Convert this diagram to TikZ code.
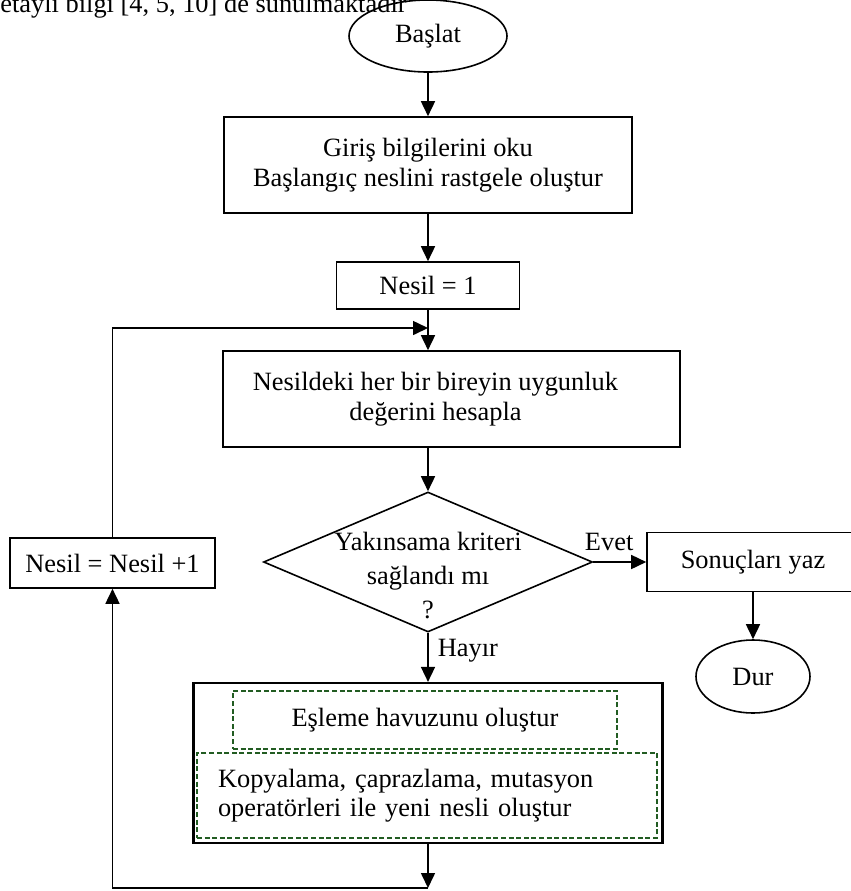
\documentclass[tikz,border=0pt]{standalone}
\definecolor{poolgreen}{RGB}{34, 92, 34}
\usepackage{fontspec}
\setmainfont{Liberation Serif}
\usetikzlibrary{shapes.geometric, arrows.meta}

\begin{document}
\begin{tikzpicture}[x=0.5pt, y=-0.5pt,
  every node/.style={font=\fontsize{13.2}{14.7}\selectfont},
  procbox/.style={draw, line width=0.8pt, inner sep=0pt, align=center},
  termnode/.style={draw, ellipse, line width=0.8pt, inner sep=0pt},
  decnode/.style={draw, diamond, line width=0.8pt, inner sep=0pt},
  dashbox/.style={draw=poolgreen, line width=0.6pt, dash pattern=on 2.5pt off 1.3pt, inner sep=0pt},
  arr/.style={line width=0.8pt, -{Triangle[length=7.5pt, width=7pt]}},
  edgelbl/.style={inner sep=0pt}]
  \useasboundingbox (0, 0) rectangle (851, 891);
  \clip (0, 0) rectangle (851, 891);

  % Text line above the chart
  \node[anchor=base west, inner sep=0pt] (intro) at (0, 12) {etaylı bilgi [4, 5, 10] de sunulmaktadır};

  % Start
  \node[termnode, minimum width=79pt, minimum height=36pt] (start) at (428, 36) {Başlat};

  % Read input
  \node[procbox, minimum width=204pt, minimum height=48pt] (read) at (428, 165) {
    Giriş bilgilerini oku\\
    Başlangıç neslini rastgele oluştur
  };

  % First generation
  \node[procbox, minimum width=91.5pt, minimum height=23.5pt] (init) at (428, 285.5) {Nesil = 1};

  % Fitness
  \node[procbox, minimum width=228.5pt, minimum height=48pt,
        label={[align=center, xshift=-8pt]center:Nesildeki her bir bireyin uygunluk\\değerini hesapla}]
        (fitness) at (451.5, 399) {};

  % Convergence test
  \node[decnode, minimum width=164.5pt, minimum height=70pt,
        label={[align=center, yshift=-7pt, font=\fontsize{13.2}{17}\selectfont]center:Yakınsama kriteri\\sağlandı mı\\?}]
        (decision) at (428, 562) {};

  % Results
  \node[procbox, minimum width=106pt, minimum height=29.5pt] (result) at (753, 562) {Sonuçları yaz};
  \node[termnode, minimum width=57pt, minimum height=36.5pt] (stop) at (753, 676.5) {Dur};

  % Next generation
  \node[procbox, minimum width=102.5pt, minimum height=25pt] (incr) at (112.5, 563) {Nesil = Nesil +1};

  % New generation
  \node[procbox, line width=1.1pt, minimum width=234.5pt, minimum height=80pt] (bottom) at (428, 763) {};
  \node[dashbox, minimum width=192pt, minimum height=29pt] (pool) at (425, 720) {Eşleme havuzunu oluştur};
  \node[dashbox, text width=209pt, inner xsep=10.5pt, minimum height=42.5pt, align=left] (ops) at (427, 795.5) {
    Kopyalama, çaprazlama, mutasyon\\
    operatörleri ile yeni nesli oluştur
  };

  \coordinate (loopend) at (428, 888);
  \coordinate (join) at (428, 328);

  % Connectors
  \draw[arr] (start) -- (read);
  \draw[arr] (read) -- (init);
  \draw[arr] (init) -- (init |- fitness.north);
  \draw[arr] (fitness.south -| decision) -- (decision);
  \draw[arr] (decision) -- node[edgelbl, pos=0.3, above=5pt] {Evet} (result);
  \draw[arr] (result) -- (stop);
  \draw[arr] (decision) -- node[edgelbl, pos=0.37, right=4.5pt] {Hayır} (bottom);
  \draw[arr] (bottom) -- (loopend);
  \draw[arr] (loopend) -| (incr);
  \draw[arr] (incr) |- (join);
\end{tikzpicture}
\end{document}
